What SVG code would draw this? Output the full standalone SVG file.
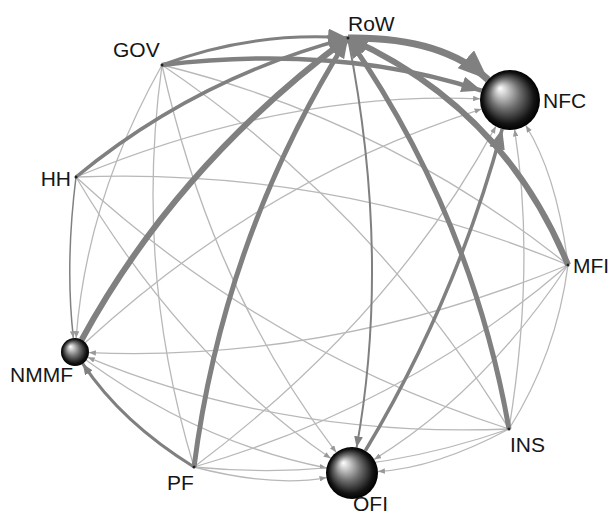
<svg xmlns="http://www.w3.org/2000/svg" width="610" height="516" viewBox="0 0 610 516">
<style>
.e{fill:none;stroke-linecap:butt}
.thin{stroke:#b8b8b8;stroke-width:1.3}
.thick{stroke:#808080}
.lbl{font-family:"Liberation Sans",Arial,Helvetica,sans-serif;font-size:21px;fill:#161616}
.dot{fill:#222}
</style>
<defs>
<radialGradient id="sph" cx="0.5" cy="0.5" r="0.5" fx="0.33" fy="0.3">
<stop offset="0" stop-color="#ffffff"/>
<stop offset="0.15" stop-color="#d6d6d6"/>
<stop offset="0.5" stop-color="#6e6e6e"/>
<stop offset="0.85" stop-color="#141414"/>
<stop offset="1" stop-color="#000"/>
</radialGradient>
<marker id="big" viewBox="0 0 10 8" refX="10" refY="4" markerUnits="userSpaceOnUse" markerWidth="20" markerHeight="16" orient="auto"><path d="M0,0 L10,4 L0,8 z" fill="#808080"/></marker>
<marker id="huge" viewBox="0 0 10 8" refX="10" refY="4" markerUnits="userSpaceOnUse" markerWidth="30" markerHeight="24" orient="auto"><path d="M0,0 L10,4 L0,8 z" fill="#808080"/></marker>
<marker id="med" viewBox="0 0 10 8" refX="10" refY="4" markerUnits="userSpaceOnUse" markerWidth="11" markerHeight="9" orient="auto"><path d="M0,0 L10,4 L0,8 z" fill="#808080"/></marker>
<marker id="sm" viewBox="0 0 10 8" refX="10" refY="4" markerUnits="userSpaceOnUse" markerWidth="7" markerHeight="5.5" orient="auto"><path d="M0,0 L10,4 L0,8 z" fill="#999"/></marker>
</defs>
<g id="connectors">
<path class="e thin" d="M162,65 Q387,120.3 568,265"/>
<path class="e thin" d="M162,65 Q375.5,208.8 509,429"/>
<path class="e thin" d="M162,65 Q212.1,289.9 336.2,452.3" marker-end="url(#sm)"/>
<path class="e thin" d="M162,65 Q133.8,269.5 194,467"/>
<path class="e thin" d="M162,65 Q86.9,198.9 76.1,338" marker-end="url(#sm)"/>
<path class="e thin" d="M76,177 Q284.5,90.8 480,98.8" marker-end="url(#sm)"/>
<path class="e thin" d="M76,177 Q331.7,166.9 568,265"/>
<path class="e thin" d="M76,177 Q264.8,350.6 509,429"/>
<path class="e thin" d="M76,177 Q181.4,355.4 330.6,458.3" marker-end="url(#sm)"/>
<path class="e thin" d="M85.3,342.5 Q264.8,178.1 481.4,109.1" marker-end="url(#sm)"/>
<path class="e thin" d="M568,265 Q331.1,362.7 89,352.6" marker-end="url(#sm)"/>
<path class="e thin" d="M509,429 Q283.5,438.2 87.9,357.3" marker-end="url(#sm)"/>
<path class="e thin" d="M86.3,360.2 Q200.2,443 326.5,468" marker-end="url(#sm)"/>
<path class="e thin" d="M194,467 Q392.4,318.3 495.8,126.4" marker-end="url(#sm)"/>
<path class="e thin" d="M194,467 Q403.2,407.1 568,265"/>
<path class="e thin" d="M194,467 Q355.7,482.7 509,429"/>
<path class="e thin" d="M194,467 Q272.3,487.4 326.4,477.6" marker-end="url(#sm)"/>
<path class="e thin" d="M568,265 Q482.9,392.8 374.2,459.4" marker-end="url(#sm)"/>
<path class="e thin" d="M509,429 Q435.3,468.3 378,471.5" marker-end="url(#sm)"/>
<path class="e thin" d="M509,429 Q535.8,264.6 514.6,129.6" marker-end="url(#sm)"/>
<path class="e thin" d="M509,429 Q556.5,353.5 568,265"/>
<path class="e thin" d="M568,265 Q557.2,176.1 525.8,125.5" marker-end="url(#sm)"/>
<path class="e thick" stroke-width="1.5" d="M76,177 Q65,264.4 73.4,338.1" marker-end="url(#sm)"/>
<path class="e thick" stroke-width="2" d="M348,38 Q391.3,255.1 356.6,447.4" marker-end="url(#med)"/>
<path class="e thick" stroke-width="3" d="M194,467 Q121.9,422.6 82.7,363.7" marker-end="url(#med)"/>
<path class="e thick" stroke-width="3.5" d="M365.4,450.7 Q457,297.6 502.2,129" marker-end="url(#big)"/>
<path class="e thick" stroke-width="3" d="M162,65 Q252,31 348,38" marker-end="url(#big)"/>
<path class="e thick" stroke-width="4.5" d="M162,65 Q340,44 481.5,90.6" marker-end="url(#big)"/>
<path class="e thick" stroke-width="3.5" d="M76,177 Q196.7,77.6 348,38" marker-end="url(#big)"/>
<path class="e thick" stroke-width="6" d="M81.7,339.7 Q177,165 348,38" marker-end="url(#big)"/>
<path class="e thick" stroke-width="5" d="M194,467 Q223.8,235.6 348,38" marker-end="url(#big)"/>
<path class="e thick" stroke-width="5" d="M509,429 Q471.5,215.8 348,38" marker-end="url(#big)"/>
<path class="e thick" stroke-width="6" d="M568,265 Q503.4,107.5 348,38" marker-end="url(#big)"/>
<path class="e thick" stroke-width="7" d="M348,38 Q441.4,36.6 488,79.6" marker-end="url(#huge)"/>
</g>
<g id="node-RoW"><circle class="dot" cx="348" cy="38" r="1.5"/><text class="lbl" x="348" y="31">RoW</text></g>
<g id="node-GOV"><circle class="dot" cx="162" cy="65" r="1.5"/><text class="lbl" x="113" y="57">GOV</text></g>
<g id="node-HH"><circle class="dot" cx="76" cy="177" r="1.5"/><text class="lbl" x="71" y="186" text-anchor="end">HH</text></g>
<g id="node-NFC"><circle cx="510" cy="100" r="30" fill="url(#sph)"/><text class="lbl" x="543" y="108">NFC</text></g>
<g id="node-MFI"><circle class="dot" cx="568" cy="265" r="1.5"/><text class="lbl" x="573" y="273">MFI</text></g>
<g id="node-INS"><circle class="dot" cx="509" cy="429" r="1.5"/><text class="lbl" x="510" y="452">INS</text></g>
<g id="node-OFI"><circle cx="352" cy="473" r="26" fill="url(#sph)"/><text class="lbl" x="353" y="511">OFI</text></g>
<g id="node-PF"><circle class="dot" cx="194" cy="467" r="1.5"/><text class="lbl" x="167" y="490">PF</text></g>
<g id="node-NMMF"><circle cx="75" cy="352" r="14" fill="url(#sph)"/><text class="lbl" x="73" y="382" text-anchor="end">NMMF</text></g>
</svg>
